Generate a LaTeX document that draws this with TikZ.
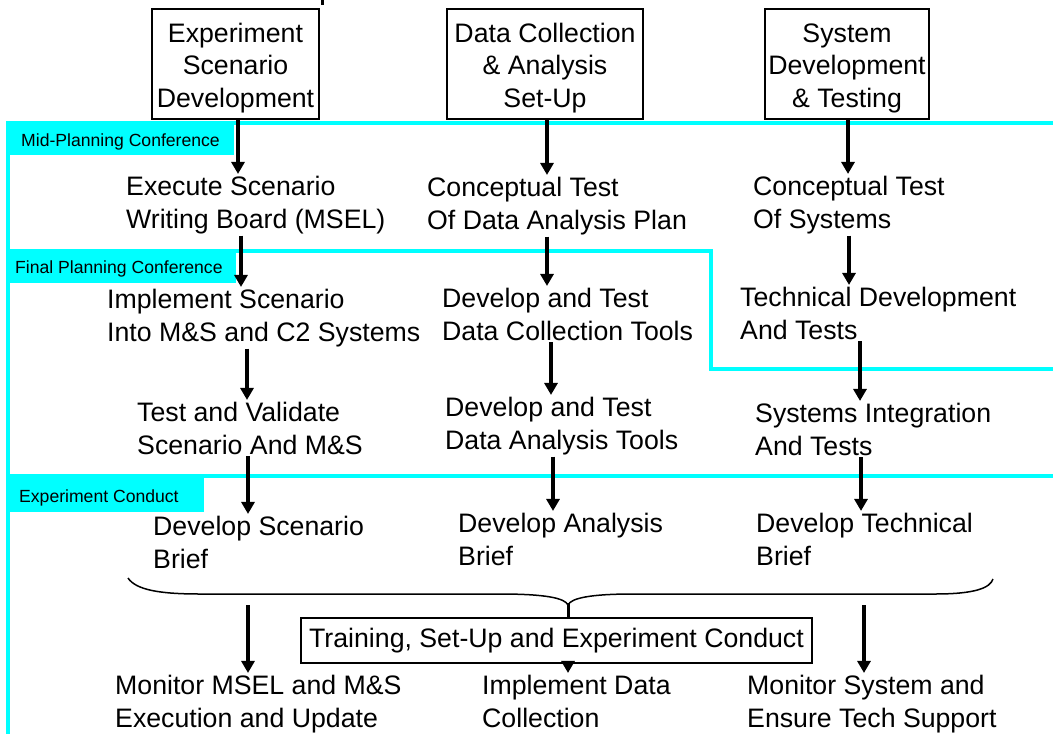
\documentclass[tikz,border=0pt]{standalone}
\usepackage{fontspec}
\setmainfont{Liberation Sans}
\usetikzlibrary{arrows.meta}
\definecolor{bandcyan}{RGB}{0,255,255}
\begin{document}
\begin{tikzpicture}[x=1pt,y=-1pt,
  % multi-line text blocks are placed by the baseline of their last line
  txt/.style={font=\fontsize{26.7}{32.5}\selectfont, align=left, anchor=base west, inner xsep=0pt, inner ysep=2pt},
  hdrtxt/.style={font=\fontsize{26.7}{32.5}\selectfont, align=center, anchor=base, inner sep=0pt},
  box/.style={draw, line width=1.3pt, inner sep=0pt},
  lab/.style={font=\fontsize{17.6}{20}\selectfont, anchor=base west, inner sep=0pt},
  band/.style={draw=bandcyan, line width=4pt},
  arr/.style={line width=3.5pt, -{Triangle[width=13pt,length=12pt]}},
]
\useasboundingbox (0,0) rectangle (1053,734);

% phase bands
\draw[band] (8,734) -- (8,123) -- (1053,123);
\draw[band] (8,251) -- (711,251) -- (711,369) -- (1053,369);
\draw[band] (8,476) -- (1053,476);
\fill[bandcyan] (6,121) rectangle (234,155);
\fill[bandcyan] (6,249) rectangle (236,283);
\fill[bandcyan] (6,474) rectangle (204,512);
\node[lab] (midlab) at (21,146) {Mid-Planning Conference};
\node[lab] (finlab) at (15,273) {Final Planning Conference};
\node[lab] (explab) at (19,502) {Experiment Conduct};

% clipped mark at the top edge
\fill (321,0) rectangle (324,5);

% column headers
\node[box, minimum width=167pt, minimum height=110pt] (h1) at (235.5,64) {};
\node[box, minimum width=196pt, minimum height=110pt] (h2) at (545,64) {};
\node[box, minimum width=164pt, minimum height=110pt] (h3) at (847,64) {};
\node[hdrtxt] (h1t) at (235.5,107) {Experiment\\Scenario\\Development};
\node[hdrtxt] (h2t) at (545,107) {Data Collection\\\& Analysis\\Set-Up};
\node[hdrtxt] (h3t) at (847,107) {System\\Development\\\& Testing};

% activities
\node[txt] (r1a) at (126,228) {Execute Scenario\\Writing Board (MSEL)};
\node[txt] (r1b) at (427,229) {Conceptual Test\\Of Data Analysis Plan};
\node[txt] (r1c) at (753,228) {Conceptual Test\\Of Systems};
\node[txt] (r2a) at (107,341) {Implement Scenario\\Into M\&S and C2 Systems};
\node[txt] (r2b) at (442,340) {Develop and Test\\Data Collection Tools};
\node[txt] (r2c) at (740,339) {Technical Development\\And Tests};
\node[txt] (r3a) at (137,454) {Test and Validate\\Scenario And M\&S};
\node[txt] (r3b) at (445,449) {Develop and Test\\Data Analysis Tools};
\node[txt] (r3c) at (755,455) {Systems Integration\\And Tests};
\node[txt] (r4a) at (153,568) {Develop Scenario\\Brief};
\node[txt] (r4b) at (458,565) {Develop Analysis\\Brief};
\node[txt] (r4c) at (756,565) {Develop Technical\\Brief};
\node[txt] (r5a) at (115,727) {Monitor MSEL and M\&S\\Execution and Update};
\node[txt] (r5b) at (482,727) {Implement Data\\Collection};
\node[txt] (r5c) at (747,727) {Monitor System and\\Ensure Tech Support};

\node[box, minimum width=511pt, minimum height=45pt, font=\fontsize{26.7}{32.5}\selectfont] (train) at (556.5,640.5) {Training, Set-Up and Experiment Conduct};

% arrow columns
\coordinate (xa1) at (238,0); \coordinate (xa2) at (241,0);
\coordinate (xa3) at (247,0); \coordinate (xa4) at (248,0);
\coordinate (xb1) at (547,0); \coordinate (xb2) at (547,0);
\coordinate (xb3) at (551,0); \coordinate (xb4) at (553,0);
\coordinate (xc1) at (848,0); \coordinate (xc2) at (849,0);
\coordinate (xc3) at (860,0); \coordinate (xc4) at (861,0);
\coordinate (xt) at (568,0);

\draw[arr] (h1.south -| xa1) -- (r1a.north -| xa1);
\draw[arr] (r1a.south -| xa2) -- (r2a.north -| xa2);
\draw[arr] (r2a.south -| xa3) -- (r3a.north -| xa3);
\draw[arr] (r3a.south -| xa4) -- (r4a.north -| xa4);

\draw[arr] (h2.south -| xb1) -- (r1b.north -| xb1);
\draw[arr] (r1b.south -| xb2) -- (r2b.north -| xb2);
\draw[arr] (r2b.south -| xb3) -- (r3b.north -| xb3);
\draw[arr] (r3b.south -| xb4) -- (r4b.north -| xb4);

\draw[arr] (h3.south -| xc1) -- (r1c.north -| xc1);
\draw[arr] (r1c.south -| xc2) -- (r2c.north -| xc2);
\draw[arr] (r2c.south -| xc3) -- (r3c.north -| xc3);
\draw[arr] (r3c.south -| xc4) -- (r4c.north -| xc4);

% brace gathering the briefs
\draw[line width=1.5pt] (128,578) .. controls (136,590) and (160,594) .. (200,594) -- (500,594)
  .. controls (545,594) and (565,598) .. (568,605)
  .. controls (571,598) and (591,594) .. (633,594) -- (935,594)
  .. controls (975,594) and (990,588) .. (993,579);
\coordinate (bt) at (568,603);
\draw[line width=3pt] (bt) -- (train.north -| bt);

\coordinate (b1) at (248,605);
\coordinate (b3) at (864,605);
\draw[arr] (b1) -- (r5a.north -| b1);
\draw[arr] (b3) -- (r5c.north -| b3);
\draw[arr] (train.south -| xt) -- (r5b.north -| xt);
\end{tikzpicture}
\end{document}
